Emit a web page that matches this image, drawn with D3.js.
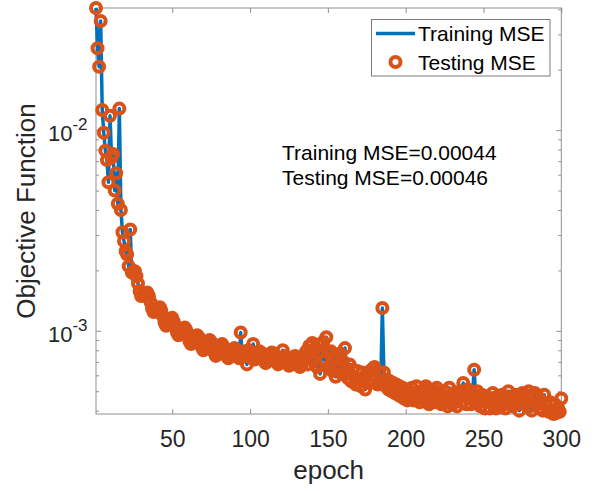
<!DOCTYPE html>
<html><head><meta charset="utf-8">
<script src="https://cdn.jsdelivr.net/npm/d3@7"></script>
<style>
html,body{margin:0;padding:0;background:#fff;}
svg{display:block;font-family:Arial,"Liberation Sans",Helvetica,sans-serif;}
</style></head>
<body>
<svg id="chart" width="599" height="491"></svg>
<script>
// ---------------- data ----------------
const epochs = d3.range(1, 301);
const trainMSE = [
0.0406,0.0256,0.0207,0.0350,0.0126,0.0097,0.0079,0.0071,0.0055,0.0118,
0.0073,0.0076,0.0050,0.0061,0.0043,0.0128,0.0040,0.0031,0.0028,0.0025,
0.0024,0.0021,0.0032,0.00195,0.00198,0.00198,0.00187,0.00172,0.00158,0.00149,
0.00150,0.00152,0.00154,0.00155,0.00149,0.00139,0.00129,0.00124,0.00125,0.00127,
0.00129,0.00131,0.00126,0.00118,0.00110,0.00106,0.00108,0.00111,0.00113,0.00116,
0.00111,0.00105,0.00098,0.00095,0.00097,0.00100,0.00102,0.00104,0.00101,0.00095,
0.00089,0.00086,0.00088,0.00091,0.00094,0.00095,0.00093,0.00088,0.00083,0.00080,
0.00082,0.00085,0.00088,0.00090,0.00088,0.00083,0.00078,0.00075,0.00077,0.00080,
0.00083,0.00086,0.00083,0.00079,0.00075,0.00073,0.00075,0.00078,0.00081,0.00082,
0.00081,0.00077,0.00073,0.00098,0.00074,0.00076,0.00079,0.00068,0.00080,0.00076,
0.00073,0.00086,0.00072,0.00074,0.00077,0.00079,0.00078,0.00075,0.00071,0.00069,
0.00070,0.00073,0.00076,0.00078,0.00077,0.00074,0.00070,0.00068,0.00069,0.00072,
0.00080,0.00075,0.00073,0.00069,0.00067,0.00068,0.00071,0.00074,0.00075,0.00072,
0.00068,0.00066,0.00067,0.00070,0.00074,0.00079,0.00068,0.00084,0.00072,0.00087,
0.00070,0.00082,0.00066,0.00085,0.00061,0.00079,0.00088,0.00071,0.00093,0.00078,
0.00067,0.00079,0.00063,0.00075,0.00059,0.00072,0.00065,0.00077,0.00061,0.00070,
0.00082,0.00064,0.00058,0.00068,0.00056,0.00064,0.00059,0.00054,0.00063,0.00057,
0.00053,0.00062,0.00056,0.00051,0.00061,0.00055,0.00063,0.00057,0.00065,0.00066,
0.00058,0.00054,0.00062,0.00055,0.00130,0.00062,0.00053,0.00057,0.00051,0.00056,
0.00050,0.00055,0.00049,0.00054,0.00048,0.00053,0.00047,0.00052,0.00046,0.00051,
0.00045,0.00050,0.00047,0.00052,0.00045,0.00049,0.00053,0.00046,0.00044,0.00050,
0.00046,0.00051,0.00053,0.00045,0.00043,0.00049,0.00046,0.00044,0.00050,0.00052,
0.00045,0.00049,0.00043,0.00047,0.00050,0.00044,0.00042,0.00052,0.00047,0.00043,
0.00049,0.00045,0.00042,0.00048,0.00050,0.00044,0.00055,0.00048,0.00043,0.00051,
0.00046,0.00043,0.00049,0.00064,0.00046,0.00050,0.00044,0.00042,0.00048,0.00045,
0.00041,0.00047,0.00044,0.00041,0.00046,0.00049,0.00043,0.00041,0.00047,0.00045,
0.00042,0.00048,0.00043,0.00041,0.00046,0.00050,0.00043,0.00047,0.00042,0.00045,
0.00048,0.00043,0.00040,0.00046,0.00049,0.00043,0.00048,0.00044,0.00050,0.00042,
0.00040,0.00047,0.00049,0.00043,0.00047,0.00041,0.00045,0.00040,0.00048,0.00043,
0.00040,0.000395,0.00044,0.00039,0.000385,0.00043,0.00039,0.00041,0.000395,0.00044
];
const testMSE = [
0.0406,0.0256,0.0207,0.0350,0.0126,0.0097,0.0079,0.0071,0.0055,0.0118,
0.0073,0.0076,0.0050,0.0061,0.0043,0.0128,0.0040,0.0031,0.0028,0.0025,
0.0024,0.0021,0.0032,0.00195,0.00198,0.00198,0.00187,0.00172,0.00158,0.00149,
0.00150,0.00152,0.00154,0.00155,0.00149,0.00139,0.00129,0.00124,0.00125,0.00127,
0.00129,0.00131,0.00126,0.00118,0.00110,0.00106,0.00108,0.00111,0.00113,0.00116,
0.00111,0.00105,0.00098,0.00095,0.00097,0.00100,0.00102,0.00104,0.00101,0.00095,
0.00089,0.00086,0.00088,0.00091,0.00094,0.00095,0.00093,0.00088,0.00083,0.00080,
0.00082,0.00085,0.00088,0.00090,0.00088,0.00083,0.00078,0.00075,0.00077,0.00080,
0.00083,0.00086,0.00083,0.00079,0.00075,0.00073,0.00075,0.00078,0.00081,0.00082,
0.00081,0.00077,0.00073,0.00098,0.00074,0.00076,0.00079,0.00068,0.00080,0.00076,
0.00073,0.00086,0.00072,0.00074,0.00077,0.00079,0.00078,0.00075,0.00071,0.00069,
0.00070,0.00073,0.00076,0.00078,0.00077,0.00074,0.00070,0.00068,0.00069,0.00072,
0.00080,0.00075,0.00073,0.00069,0.00067,0.00068,0.00071,0.00074,0.00075,0.00072,
0.00068,0.00066,0.00067,0.00070,0.00074,0.00079,0.00068,0.00084,0.00072,0.00087,
0.00070,0.00082,0.00066,0.00085,0.00061,0.00079,0.00088,0.00071,0.00093,0.00078,
0.00067,0.00079,0.00063,0.00075,0.00059,0.00072,0.00065,0.00077,0.00061,0.00070,
0.00082,0.00064,0.00058,0.00068,0.00056,0.00064,0.00059,0.00054,0.00063,0.00057,
0.00053,0.00062,0.00056,0.00051,0.00061,0.00055,0.00063,0.00057,0.00065,0.00066,
0.00058,0.00054,0.00062,0.00055,0.00130,0.00062,0.00053,0.00057,0.00051,0.00056,
0.00050,0.00055,0.00049,0.00054,0.00048,0.00053,0.00047,0.00052,0.00046,0.00051,
0.00045,0.00050,0.00047,0.00052,0.00045,0.00049,0.00053,0.00046,0.00044,0.00050,
0.00046,0.00051,0.00053,0.00045,0.00043,0.00049,0.00046,0.00044,0.00050,0.00052,
0.00045,0.00049,0.00043,0.00047,0.00050,0.00044,0.00042,0.00052,0.00047,0.00043,
0.00049,0.00045,0.00042,0.00048,0.00050,0.00044,0.00055,0.00048,0.00043,0.00051,
0.00046,0.00043,0.00049,0.00064,0.00046,0.00050,0.00044,0.00042,0.00048,0.00045,
0.00041,0.00047,0.00044,0.00041,0.00046,0.00049,0.00043,0.00041,0.00047,0.00045,
0.00042,0.00048,0.00043,0.00041,0.00046,0.00050,0.00043,0.00047,0.00042,0.00045,
0.00048,0.00043,0.00040,0.00046,0.00049,0.00043,0.00048,0.00044,0.00050,0.00042,
0.00040,0.00047,0.00049,0.00043,0.00047,0.00041,0.00045,0.00040,0.00048,0.00043,
0.00040,0.000395,0.00044,0.00039,0.000385,0.00043,0.00039,0.00041,0.000395,0.00046
];
const xTicks = [50, 100, 150, 200, 250, 300];
const yMajor = [1e-3, 1e-2];
const yMajorLabels = [["10", "-3"], ["10", "-2"]];
const yMinor = [4e-4,5e-4,6e-4,7e-4,8e-4,9e-4,2e-3,3e-3,4e-3,5e-3,6e-3,7e-3,8e-3,9e-3,2e-2,3e-2,4e-2];
const legendLabels = ["Training MSE", "Testing MSE"];
const annotation = ["Training MSE=0.00044", "Testing MSE=0.00046"];
const xLabel = "epoch";
const yLabel = "Objective Function";

// ---------------- layout ----------------
const L = 96, R = 561.3, T = 8, B = 414;
const blue = "#0072BD", orange = "#D95319", axisCol = "#8f8f8f", txtCol = "#262626";
const markR = 5, markW = 4;

const svg = d3.select("#chart");
const x = d3.scaleLinear().domain([1, 300]).range([L, R]);
const y = d3.scaleLog().domain([0.000385, 0.0406]).range([B, T]);

// box
svg.append("rect").attr("x", L).attr("y", T).attr("width", R - L).attr("height", B - T)
  .attr("fill", "none").attr("stroke", axisCol).attr("stroke-width", 1);

function styleAxis(g) {
  g.select(".domain").remove();
  g.selectAll(".tick line").attr("stroke", axisCol);
  g.selectAll(".tick text").attr("fill", txtCol).style("font-size", "23px");
}
// x axes
svg.append("g").attr("transform", `translate(0,${B})`)
  .call(d3.axisBottom(x).tickValues(xTicks).tickSize(-5).tickPadding(17).tickFormat(d3.format("d")))
  .call(styleAxis);
svg.append("g").attr("transform", `translate(0,${T})`)
  .call(d3.axisTop(x).tickValues(xTicks).tickSize(-5).tickFormat(""))
  .call(styleAxis);
// y axes (major + minor)
const yAll = yMajor.concat(yMinor);
function yAx(gen, tx, minorLen) {
  const g = svg.append("g").attr("transform", `translate(${tx},0)`)
    .call(gen(y).tickValues(yAll).tickSize(-5).tickFormat(""))
    .call(styleAxis);
  g.selectAll(".tick line").each(function(d) {
    if (yMinor.includes(d)) d3.select(this).attr("x2", minorLen);
  });
}
yAx(d3.axisLeft, L, 3);
yAx(d3.axisRight, R, -3);

// y tick labels with superscripts
yMajor.forEach((v, i) => {
  const t = svg.append("text").attr("x", 87.5).attr("y", y(v) + 11)
    .attr("text-anchor", "end").attr("fill", txtCol).style("font-size", "22px");
  t.append("tspan").text(yMajorLabels[i][0]);
  t.append("tspan").attr("dy", -11).style("font-size", "17px").text(yMajorLabels[i][1]);
});

// axis labels
svg.append("text").attr("x", (L + R) / 2).attr("y", 479).attr("text-anchor", "middle")
  .attr("fill", txtCol).style("font-size", "26px").text(xLabel);
svg.append("text").attr("transform", `translate(35,${(T + B) / 2}) rotate(-90)`)
  .attr("text-anchor", "middle").attr("fill", txtCol).style("font-size", "26px").text(yLabel);

// data
const line = d3.line().x((d, i) => x(epochs[i])).y(d => y(d));
svg.append("path").datum(trainMSE).attr("d", line)
  .attr("fill", "none").attr("stroke", blue).attr("stroke-width", 3.5).attr("stroke-linejoin", "round");
svg.append("g").selectAll("circle").data(testMSE).join("circle")
  .attr("cx", (d, i) => x(epochs[i])).attr("cy", d => y(d)).attr("r", markR)
  .attr("fill", "none").attr("stroke", orange).attr("stroke-width", markW);

// annotation
annotation.forEach((s, i) => {
  svg.append("text").attr("x", 282).attr("y", 159.5 + i * 25).attr("fill", "#000")
    .style("font-size", "21px").text(s);
});

// legend
const lg = svg.append("g");
lg.append("rect").attr("x", 371.5).attr("y", 19.5).attr("width", 178.5).attr("height", 56.5)
  .attr("fill", "#fff").attr("stroke", "#7a7a7a").attr("stroke-width", 1);
lg.append("line").attr("x1", 376).attr("x2", 415).attr("y1", 33.5).attr("y2", 33.5)
  .attr("stroke", blue).attr("stroke-width", 3.5);
lg.append("circle").attr("cx", 395.5).attr("cy", 62).attr("r", markR)
  .attr("fill", "none").attr("stroke", orange).attr("stroke-width", markW);
legendLabels.forEach((s, i) => {
  lg.append("text").attr("x", 418).attr("y", 41 + i * 28.5).attr("fill", "#000")
    .style("font-size", "21px").text(s);
});
</script>
</body></html>
